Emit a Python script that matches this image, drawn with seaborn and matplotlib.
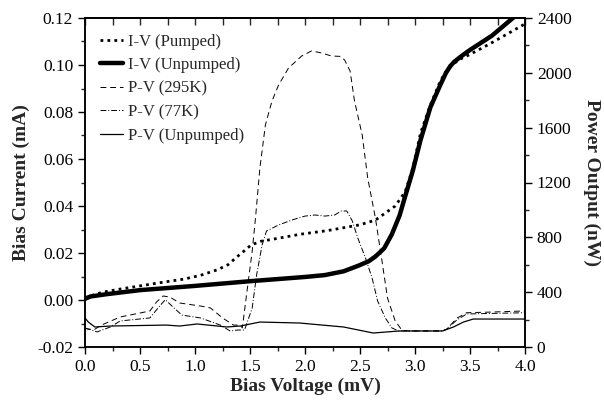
import numpy as np
import pandas as pd
import matplotlib
matplotlib.use("Agg")
import matplotlib.pyplot as plt
from matplotlib.ticker import MultipleLocator
import seaborn as sns

# ---------------- data ----------------
iv_pumped_x = [0.0, 0.1, 0.17, 0.3, 0.5, 0.7, 0.9, 1.05, 1.2, 1.3, 1.38, 1.45, 1.51, 1.6, 1.7,
               1.96, 2.2, 2.5, 2.64, 2.82, 2.91, 2.98, 3.05, 3.14, 3.22, 3.27, 3.35, 3.41, 3.5,
               3.68, 3.85, 4.0]
iv_pumped_y = [0.001, 0.0025, 0.0034, 0.0045, 0.006, 0.0075, 0.0089, 0.0105, 0.0128, 0.015,
               0.0183, 0.021, 0.0234, 0.025, 0.0258, 0.028, 0.0295, 0.032, 0.034, 0.040, 0.046,
               0.056, 0.071, 0.083, 0.092, 0.0966, 0.1005, 0.1025, 0.1045, 0.109, 0.1135, 0.1175]

iv_unpumped_x = [0.0, 0.05, 0.2, 0.5, 1.0, 1.5, 2.0, 2.18, 2.35, 2.48, 2.58, 2.64, 2.72, 2.79,
                 2.86, 2.91, 2.98, 3.05, 3.14, 3.23, 3.28, 3.32, 3.36, 3.42, 3.5, 3.7, 3.89, 4.0]
iv_unpumped_y = [0.0005, 0.0015, 0.0025, 0.0042, 0.006, 0.008, 0.0098, 0.0106, 0.0122, 0.0145,
                 0.0165, 0.0185, 0.022, 0.028, 0.036, 0.044, 0.055, 0.068, 0.082, 0.0915,
                 0.0965, 0.0995, 0.1015, 0.1037, 0.1064, 0.1125, 0.12, 0.1235]

pv_295_x = [0.0, 0.08, 0.15, 0.32, 0.5, 0.59, 0.65, 0.71, 0.77, 0.86, 1.05, 1.14, 1.25, 1.35,
            1.41, 1.43, 1.48, 1.52, 1.55, 1.59, 1.64, 1.70, 1.76, 1.85, 1.97, 2.06, 2.15, 2.24,
            2.32, 2.36, 2.41, 2.45, 2.52, 2.57, 2.64, 2.70, 2.75, 2.82, 2.88, 2.94, 3.25, 3.29,
            3.38, 3.47, 3.7, 4.0]
pv_295_y = [135, 125, 160, 219, 248, 263, 328, 372, 365, 321, 299, 285, 212, 160,
            160, 139, 452, 700, 941, 1306, 1620, 1795, 1911, 2035, 2123, 2160, 2145, 2123,
            2120, 2094, 2013, 1795, 1547, 1233, 941, 627, 357, 190, 124, 117, 117, 131,
            210, 250, 255, 263]

pv_77_x = [0.0, 0.11, 0.23, 0.32, 0.59, 0.68, 0.73, 0.8, 0.88, 1.05, 1.23, 1.32, 1.39, 1.45,
           1.52, 1.56, 1.61, 1.65, 1.76, 1.88, 2.0, 2.09, 2.18, 2.27, 2.33, 2.38, 2.43, 2.48,
           2.55, 2.61, 2.66, 2.73, 2.79, 2.85, 3.25, 3.29, 3.38, 3.47, 3.7, 4.0]
pv_77_y = [139, 110, 146, 190, 212, 300, 345, 292, 233, 212, 160, 117, 124, 124,
           285, 525, 744, 846, 890, 926, 955, 963, 955, 963, 992, 992, 919, 795,
           649, 503, 336, 212, 139, 117, 117, 131, 197, 241, 245, 250]

pv_unp_x = [0.0, 0.03, 0.09, 0.23, 0.74, 0.86, 1.02, 1.29, 1.41, 1.59, 1.95, 2.35, 2.62, 2.86,
            3.25, 3.35, 3.44, 3.53, 4.0]
pv_unp_y = [212, 182, 146, 153, 160, 153, 168, 146, 153, 182, 175, 146, 102, 117,
            117, 146, 182, 204, 204]

labels = ["I-V (Pumped)", "I-V (Unpumped)", "P-V (295K)", "P-V (77K)", "P-V (Unpumped)"]

# ---------------- style ----------------
sns.set_style("ticks")
plt.rcParams["font.family"] = ["Liberation Serif", "DejaVu Serif"]
plt.rcParams["axes.unicode_minus"] = False
plt.rcParams["axes.linewidth"] = 1.1

fig = plt.figure(figsize=(6.04, 4.01), dpi=100)
ax = fig.add_axes([85 / 604, 1 - 347 / 401, 440 / 604, 329 / 401])
ax2 = ax.twinx()

def draw(axis, x, y, **kw):
    df = pd.DataFrame({"x": x, "y": y})
    sns.lineplot(data=df, x="x", y="y", ax=axis, sort=False, estimator=None,
                 color="black", **kw)
    return axis.get_lines()[-1]

h1 = draw(ax, iv_pumped_x, iv_pumped_y, linewidth=2.0, linestyle=(0, (1, 1.5)))
h2 = draw(ax, iv_unpumped_x, iv_unpumped_y, linewidth=3.2)
h3 = draw(ax2, pv_295_x, pv_295_y, linewidth=0.7, linestyle=(0, (6, 4)))
h4 = draw(ax2, pv_77_x, pv_77_y, linewidth=0.7, linestyle=(0, (6, 2, 1, 2)))
h5 = draw(ax2, pv_unp_x, pv_unp_y, linewidth=0.9)
for h, l in zip([h1, h2, h3, h4, h5], labels):
    h.set_label(l)

ax.set_xlim(0, 4.0)
ax.set_ylim(-0.02, 0.12)
ax2.set_ylim(0, 2400)

ax.xaxis.set_major_locator(MultipleLocator(0.5))
ax.xaxis.set_minor_locator(MultipleLocator(0.25))
ax.yaxis.set_major_locator(MultipleLocator(0.02))
ax.yaxis.set_minor_locator(MultipleLocator(0.01))
ax2.yaxis.set_major_locator(MultipleLocator(400))
ax2.yaxis.set_minor_locator(MultipleLocator(200))
ax.xaxis.set_major_formatter(matplotlib.ticker.FormatStrFormatter("%.1f"))
ax.yaxis.set_major_formatter(matplotlib.ticker.FormatStrFormatter("%.2f"))

for a in (ax, ax2):
    a.tick_params(which="major", length=5, width=1.0, direction="out", labelsize=12.5, colors="black")
    a.tick_params(which="minor", length=3, width=1.0, direction="out")
    for s in a.spines.values():
        s.set_visible(True)
        s.set_linewidth(1.1)
        s.set_color("black")

top = ax.secondary_xaxis("top")
top.xaxis.set_major_locator(MultipleLocator(0.5))
top.xaxis.set_minor_locator(MultipleLocator(0.25))
top.tick_params(which="both", direction="in", length=5, width=1.0, labeltop=False)

ax.set_xlabel("Bias Voltage (mV)", fontsize=14, fontweight="bold", labelpad=2)
ax.set_ylabel("Bias Current (mA)", fontsize=14, fontweight="bold", labelpad=5)
ax2.set_ylabel("Power Output (nW)", fontsize=14, fontweight="bold", rotation=270, labelpad=21)

leg = ax2.legend(handles=[h1, h2, h3, h4, h5], loc="upper left",
                 bbox_to_anchor=(0.034, 0.952), borderaxespad=0, borderpad=0,
                 frameon=False, fontsize=12, handlelength=1.4, handletextpad=0.3,
                 labelspacing=0.45)

fig.savefig("out.png", dpi=100)
